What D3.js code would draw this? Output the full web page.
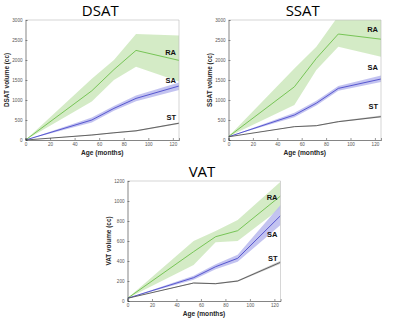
<!DOCTYPE html>
<html>
<head>
<meta charset="utf-8">
<script src="https://cdn.jsdelivr.net/npm/d3@7"></script>
<style>
  body { margin: 0; background: #fff; }
  svg { display: block; font-family: "Liberation Sans", Arial, sans-serif; }
</style>
</head>
<body>
<svg id="chart" width="400" height="318"></svg>
<script>
// ages of the sampled points (months)
const ages = [0, 54, 72, 90, 125];
const xTicks = [0, 20, 40, 60, 80, 100, 120];

// DSAT
const dsatRA = [0, 1230, 1760, 2240, 1990];
const dsatRAlo = [0, 960, 1500, 1830, 1460];
const dsatRAhi = [0, 1530, 2000, 2650, 2610];
const dsatSA = [0, 500, 790, 1040, 1350];
const dsatSAlo = [0, 440, 730, 970, 1250];
const dsatSAhi = [0, 560, 850, 1110, 1440];
const dsatST = [0, 125, 180, 230, 420];
const dsatSTlo = [0, 115, 168, 215, 400];
const dsatSThi = [0, 135, 192, 245, 440];

// SSAT
const ssatRA = [85, 1330, 2040, 2650, 2520];
const ssatRAlo = [85, 875, 1750, 2330, 2080];
const ssatRAhi = [85, 1790, 2330, 3100, 3050];
const ssatSA = [80, 625, 920, 1290, 1525];
const ssatSAlo = [80, 570, 860, 1230, 1450];
const ssatSAhi = [80, 680, 980, 1350, 1610];
const ssatST = [80, 333, 358, 458, 583];
const ssatSTlo = [80, 323, 346, 444, 560];
const ssatSThi = [80, 343, 370, 472, 610];

// VAT
const vatRA = [27, 493, 643, 703, 1050];
const vatRAlo = [27, 360, 587, 600, 927];
const vatRAhi = [27, 600, 700, 810, 1193];
const vatSA = [27, 233, 343, 427, 853];
const vatSAlo = [27, 213, 318, 393, 760];
const vatSAhi = [27, 253, 368, 462, 960];
const vatST = [27, 180, 173, 200, 387];
const vatSTlo = [27, 174, 167, 192, 372];
const vatSThi = [27, 186, 179, 208, 402];

const colors = {
  RA: { line: "#6cbf4a", band: "#cfe9c0" },
  SA: { line: "#4b4bcc", band: "#bcbcee" },
  ST: { line: "#555555", band: "#c8c8c8" }
};

const svg = d3.select("#chart");

function panel(opt) {
  const x = d3.scaleLinear().domain([0, 125]).range([opt.left, opt.right]);
  const y = d3.scaleLinear().domain([0, opt.ymax]).range([opt.bottom, opt.top]);
  const g = svg.append("g");
  const clipId = "clip-" + opt.title;

  g.append("clipPath").attr("id", clipId)
    .append("rect")
    .attr("x", opt.left).attr("y", opt.top)
    .attr("width", opt.right - opt.left).attr("height", opt.bottom - opt.top);

  const plot = g.append("g").attr("clip-path", "url(#" + clipId + ")");

  const area = d3.area()
    .x((d, i) => x(ages[i]))
    .y0(d => y(d[0]))
    .y1(d => y(d[1]));
  const line = d3.line()
    .x((d, i) => x(ages[i]))
    .y(d => y(d));

  opt.series.forEach(s => {
    const band = s.lo.map((v, i) => [v, s.hi[i]]);
    plot.append("path")
      .attr("d", area(band))
      .attr("fill", colors[s.name].band)
      .attr("opacity", 0.9);
  });
  opt.series.forEach(s => {
    plot.append("path")
      .attr("d", line(s.mean))
      .attr("fill", "none")
      .attr("stroke", colors[s.name].line)
      .attr("stroke-width", 0.9);
  });

  // axes (MATLAB style: ticks inward, box on)
  const xAxis = d3.axisBottom(x).tickValues(xTicks).tickSize(-2).tickPadding(3);
  const yAxis = d3.axisLeft(y).ticks(6).tickFormat(d3.format("d")).tickSize(-2).tickPadding(3);

  const ga = g.append("g").attr("transform", "translate(0," + opt.bottom + ")").call(xAxis);
  const gy = g.append("g").attr("transform", "translate(" + opt.left + ",0)").call(yAxis);
  [ga, gy].forEach(a => {
    a.select(".domain").attr("stroke", "#333").attr("stroke-width", 0.6);
    a.selectAll(".tick line").attr("stroke", "#333").attr("stroke-width", 0.5);
    a.selectAll(".tick text").attr("font-size", 4.6).attr("fill", "#555");
  });
  // top and right box lines
  g.append("path")
    .attr("d", "M" + opt.left + "," + opt.top + "H" + opt.right + "V" + opt.bottom)
    .attr("fill", "none").attr("stroke", "#bbb").attr("stroke-width", 0.6);

  // title
  g.append("text")
    .attr("x", (opt.left + opt.right) / 2 - 2)
    .attr("y", opt.top - 4.5)
    .attr("text-anchor", "middle")
    .attr("font-family", "'Open Sans', 'Liberation Sans', sans-serif")
    .attr("font-size", 15)
    .attr("fill", "#000")
    .text(opt.title);

  // axis labels
  g.append("text")
    .attr("x", (opt.left + opt.right) / 2)
    .attr("y", opt.bottom + 15)
    .attr("text-anchor", "middle")
    .attr("font-size", 6.6).attr("font-weight", "bold").attr("fill", "#262626")
    .text("Age (months)");
  g.append("text")
    .attr("transform", "translate(" + (opt.left - 17) + "," + ((opt.top + opt.bottom) / 2) + ") rotate(-90)")
    .attr("text-anchor", "middle")
    .attr("font-size", 6.4).attr("font-weight", "bold").attr("fill", "#262626")
    .text(opt.title + " volume (cc)");

  // series labels
  opt.labels.forEach(l => {
    g.append("text")
      .attr("x", opt.right - 3)
      .attr("y", y(l[1]))
      .attr("text-anchor", "end")
      .attr("font-size", 7.5).attr("font-weight", "bold").attr("fill", "#111")
      .text(l[0]);
  });
}

panel({
  title: "DSAT", left: 25.5, right: 179, top: 20, bottom: 140, ymax: 3000,
  series: [
    { name: "RA", mean: dsatRA, lo: dsatRAlo, hi: dsatRAhi },
    { name: "SA", mean: dsatSA, lo: dsatSAlo, hi: dsatSAhi },
    { name: "ST", mean: dsatST, lo: dsatSTlo, hi: dsatSThi }
  ],
  labels: [["RA", 2130], ["SA", 1430], ["ST", 500]]
});

panel({
  title: "SSAT", left: 228.5, right: 381, top: 20, bottom: 140, ymax: 3000,
  series: [
    { name: "RA", mean: ssatRA, lo: ssatRAlo, hi: ssatRAhi },
    { name: "SA", mean: ssatSA, lo: ssatSAlo, hi: ssatSAhi },
    { name: "ST", mean: ssatST, lo: ssatSTlo, hi: ssatSThi }
  ],
  labels: [["RA", 2700], ["SA", 1750], ["ST", 780]]
});

panel({
  title: "VAT", left: 127.5, right: 280.5, top: 181, bottom: 301, ymax: 1200,
  series: [
    { name: "RA", mean: vatRA, lo: vatRAlo, hi: vatRAhi },
    { name: "SA", mean: vatSA, lo: vatSAlo, hi: vatSAhi },
    { name: "ST", mean: vatST, lo: vatSTlo, hi: vatSThi }
  ],
  labels: [["RA", 1010], ["SA", 640], ["ST", 400]]
});
</script>
</body>
</html>
